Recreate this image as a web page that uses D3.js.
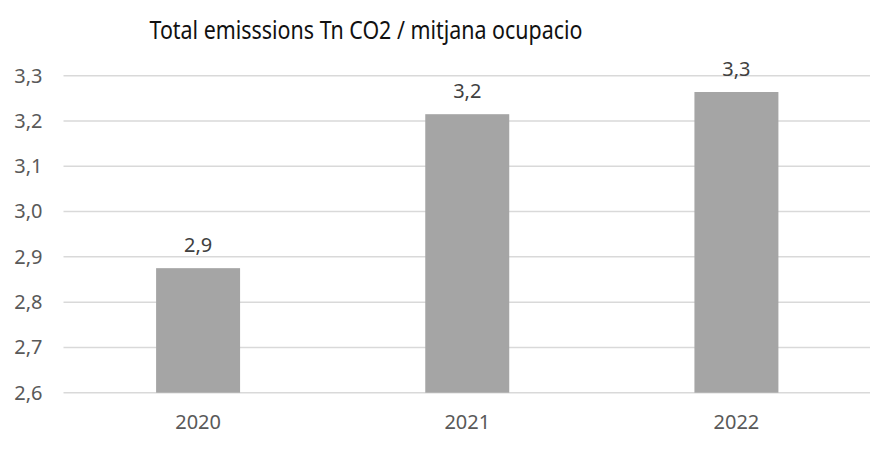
<!DOCTYPE html>
<html>
<head>
<meta charset="utf-8">
<script src="https://cdn.jsdelivr.net/npm/d3@7"></script>
<style>
  body { margin: 0; background: #fff; }
  text { font-family: "Noto Sans", sans-serif; }
</style>
</head>
<body>
<div class="chart"></div>
<script>
var years = ["2020", "2021", "2022"];
var emissions = [2.875, 3.215, 3.264];
var yTicks = [2.6, 2.7, 2.8, 2.9, 3.0, 3.1, 3.2, 3.3];
var chartTitle = "Total emisssions Tn CO2 / mitjana ocupacio";

var svgWidth = 870;
var svgHeight = 450;

var margin = { top: 75.7, right: -1, bottom: 57.3, left: 63.5 };
var width = svgWidth - margin.left - margin.right;
var height = svgHeight - margin.top - margin.bottom;

var locale = d3.formatLocale({ decimal: ",", thousands: ".", grouping: [3], currency: ["", "€"] });
var fmt = locale.format(".1f");

var svg = d3.select(".chart")
  .append("svg")
  .attr("width", svgWidth)
  .attr("height", svgHeight);

var chart = svg.append("g")
  .attr("transform", "translate(" + margin.left + "," + margin.top + ")");

var xScale = d3.scaleBand()
  .domain(years)
  .range([0, width])
  .paddingInner(0.688)
  .paddingOuter(0.344);

var yScale = d3.scaleLinear()
  .domain([2.6, 3.3])
  .range([height, 0]);

// gridlines
chart.selectAll(".grid")
  .data(yTicks)
  .enter()
  .append("line")
  .attr("x1", 0)
  .attr("x2", width)
  .attr("y1", function(d) { return yScale(d); })
  .attr("y2", function(d) { return yScale(d); })
  .attr("stroke", "#d9d9d9")
  .attr("stroke-width", 1.5);

// y axis labels
var leftAxis = d3.axisLeft(yScale)
  .tickValues(yTicks)
  .tickFormat(fmt)
  .tickSize(0)
  .tickPadding(21);

chart.append("g")
  .attr("class", "y-axis")
  .call(leftAxis)
  .call(function(g) { g.select(".domain").remove(); })
  .selectAll("text")
  .attr("fill", "#595959")
  .style("font-size", "20px");

// bars
chart.selectAll("rect")
  .data(emissions)
  .enter()
  .append("rect")
  .attr("x", function(d, i) { return xScale(years[i]); })
  .attr("y", function(d) { return yScale(d); })
  .attr("width", xScale.bandwidth())
  .attr("height", function(d) { return height - yScale(d); })
  .attr("fill", "#a5a5a5");

// value labels
chart.selectAll(".value")
  .data(emissions)
  .enter()
  .append("text")
  .attr("class", "value")
  .attr("x", function(d, i) { return xScale(years[i]) + xScale.bandwidth() / 2; })
  .attr("y", function(d) { return yScale(d) - 16; })
  .attr("text-anchor", "middle")
  .attr("fill", "#404040")
  .style("font-size", "20px")
  .text(function(d) { return fmt(d); });

// x axis labels
var bottomAxis = d3.axisBottom(xScale)
  .tickSize(0)
  .tickPadding(22);

chart.append("g")
  .attr("class", "x-axis")
  .attr("transform", "translate(0," + height + ")")
  .call(bottomAxis)
  .call(function(g) { g.select(".domain").remove(); })
  .selectAll("text")
  .attr("fill", "#595959")
  .style("font-size", "20px");

// title
svg.append("text")
  .attr("x", 366)
  .attr("y", 38.5)
  .attr("text-anchor", "middle")
  .attr("fill", "#111")
  .attr("textLength", 433)
  .attr("lengthAdjust", "spacingAndGlyphs")
  .style("font-size", "24.5px")
  .text(chartTitle);
</script>
</body>
</html>
